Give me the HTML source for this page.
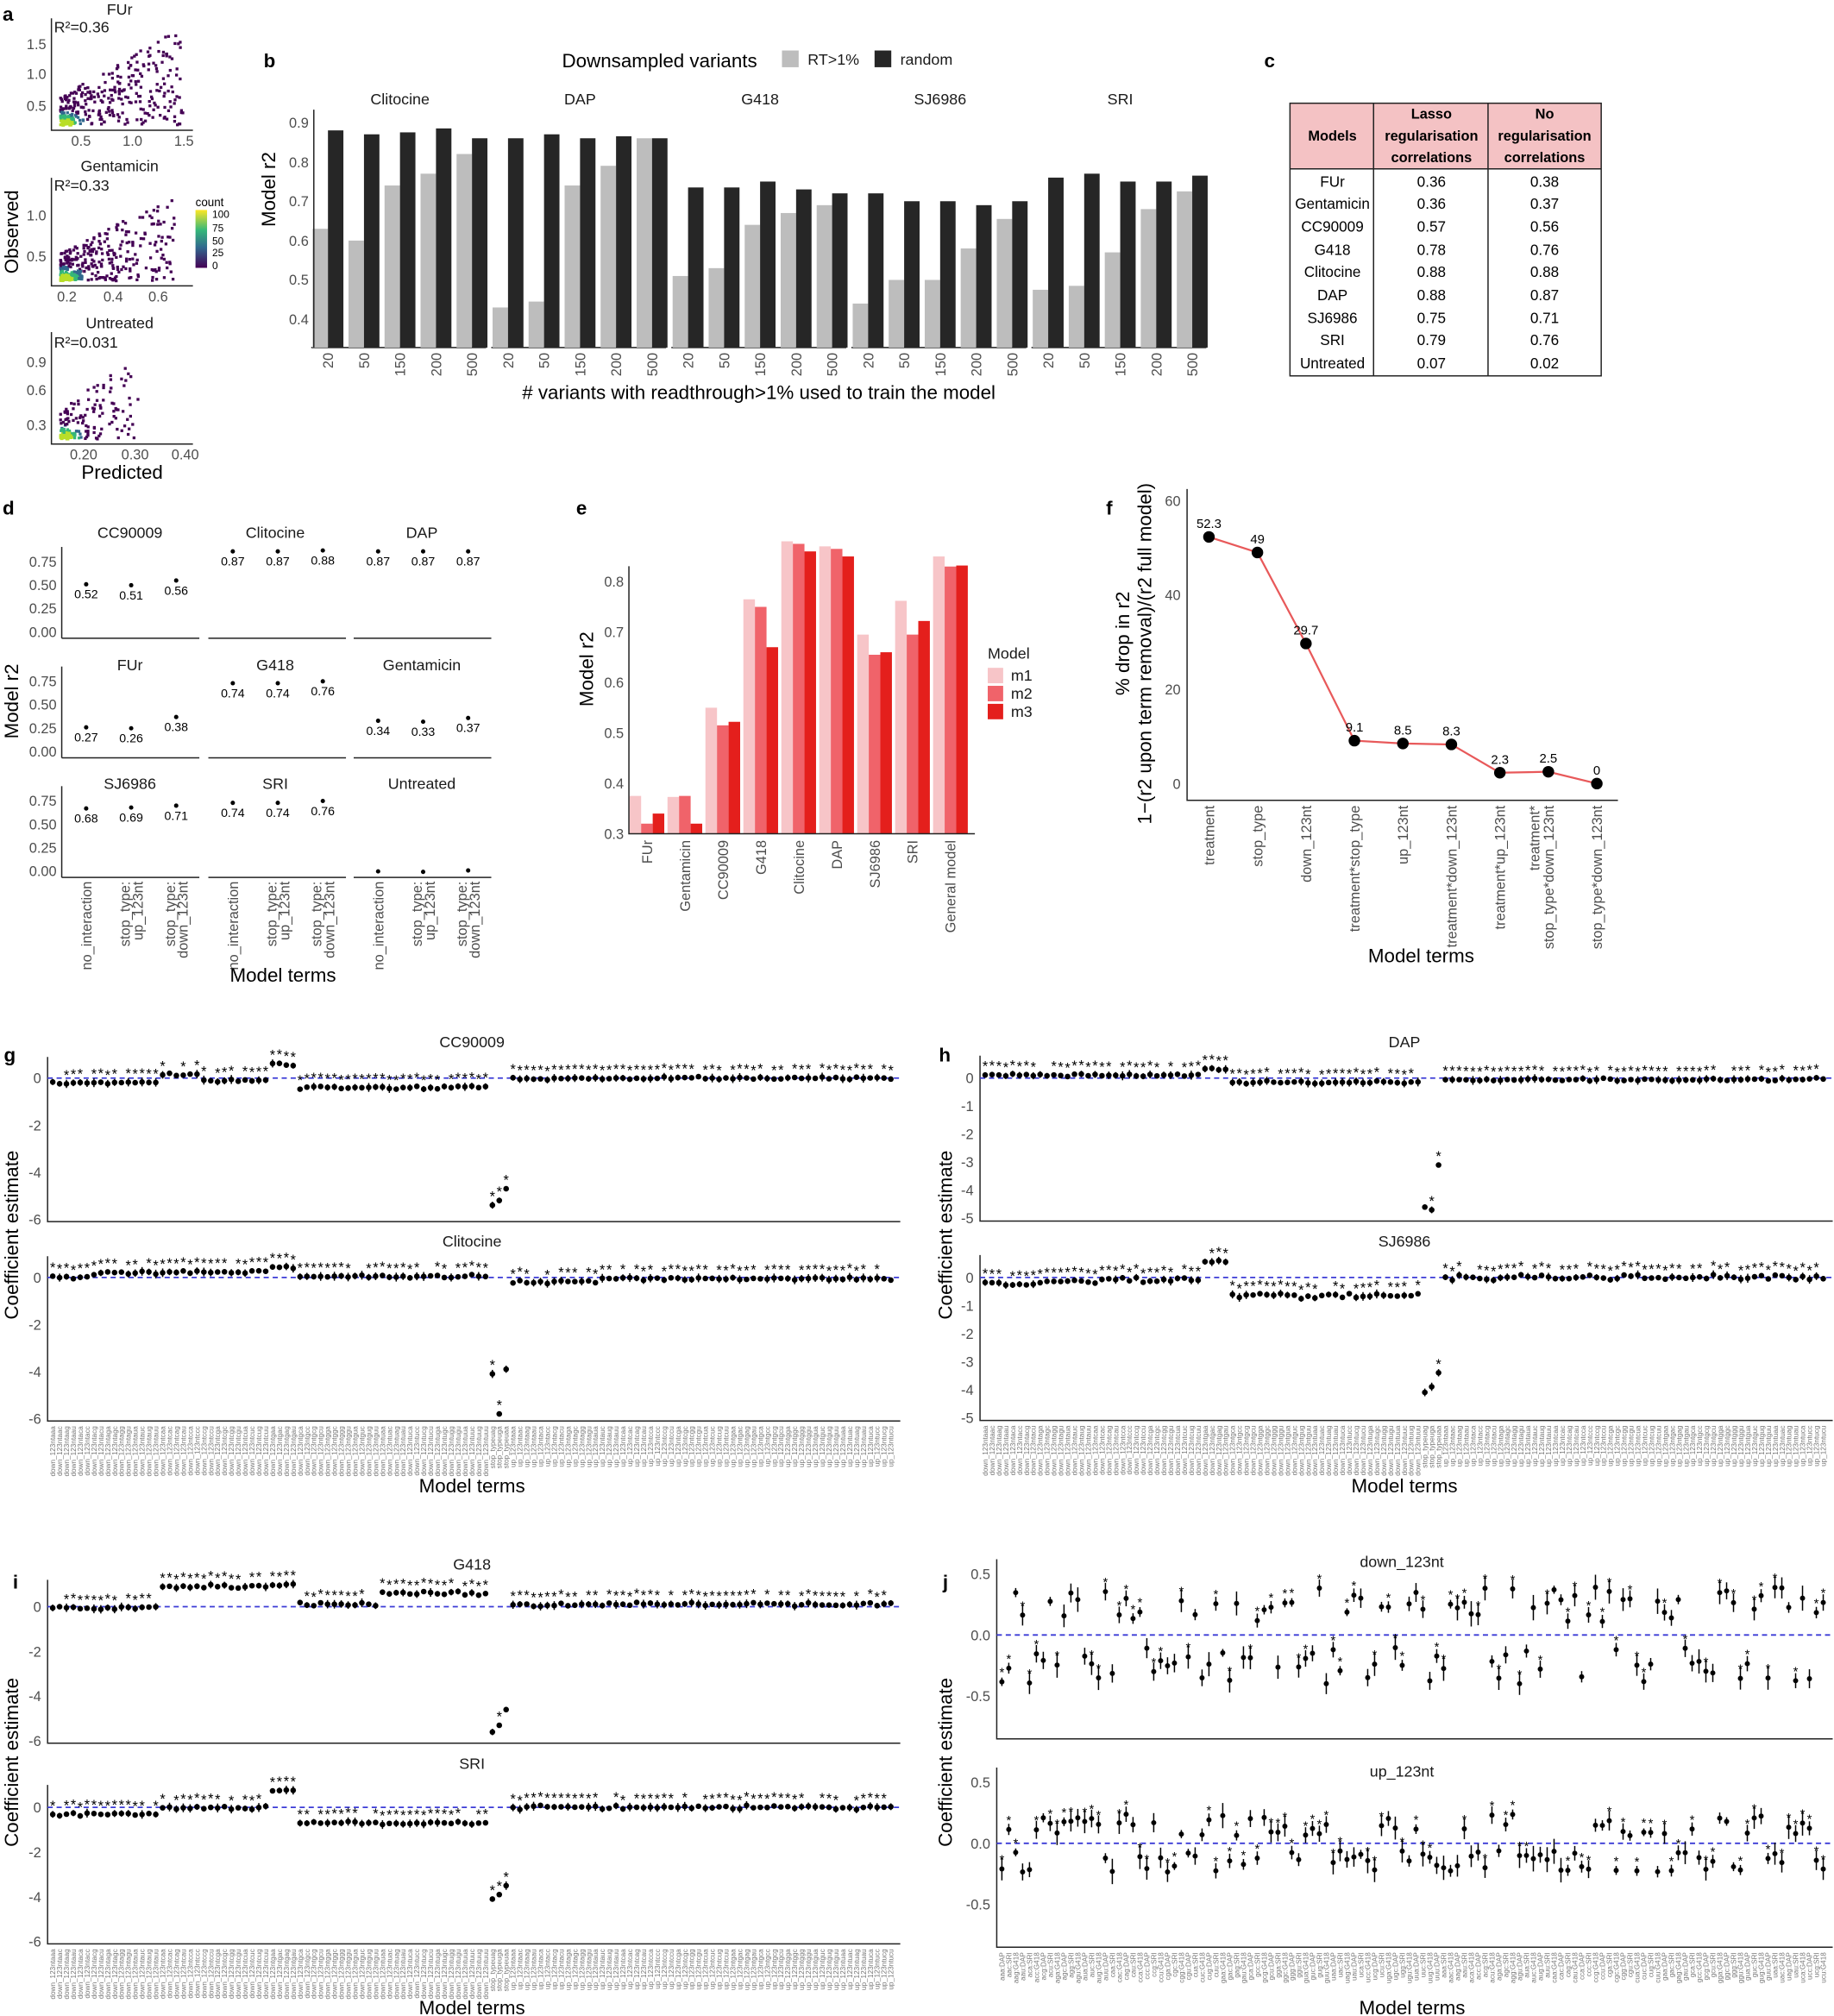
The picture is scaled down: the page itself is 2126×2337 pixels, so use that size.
<!DOCTYPE html>
<html><head><meta charset="utf-8">
<style>
html,body{margin:0;padding:0;background:#fff;}
svg{display:block;font-family:"Liberation Sans",sans-serif;}
.t{font-size:11px;fill:#4d4d4d}
.h{font-size:12px;fill:#1a1a1a}
.tt{font-size:15px;fill:#000}
.p{font-size:15px;font-weight:bold;fill:#000}
.ax{stroke:#222;stroke-width:1;fill:none}
</style></head><body>
<svg id="s" width="2126" height="2337" viewBox="0 0 1426 1567" xmlns="http://www.w3.org/2000/svg">
<rect width="1426" height="1567" fill="#fff"/>
<text class="p" x="2" y="16">a</text>
<text class="p" x="205" y="52">b</text>
<text class="p" x="983" y="52">c</text>
<text class="p" x="2" y="400">d</text>
<text class="p" x="448" y="400">e</text>
<text class="p" x="860" y="400">f</text>
<text class="p" x="3" y="825">g</text>
<text class="p" x="730" y="825">h</text>
<text class="p" x="10" y="1235">i</text>
<text class="p" x="733" y="1235">j</text>

<g id="pa">
<text class="h" x="93" y="11" text-anchor="middle">FUr</text>
<text class="h" x="93" y="133" text-anchor="middle">Gentamicin</text>
<text class="h" x="93" y="255" text-anchor="middle">Untreated</text>
<text class="h" x="42" y="25">R²=0.36</text>
<text class="h" x="42" y="148">R²=0.33</text>
<text class="h" x="42" y="270">R²=0.031</text>
<path class="ax" d="M40,14V101H150M40,138V222H150M40,258V345H150"/>
<text class="t" x="36" y="38" text-anchor="end">1.5</text>
<text class="t" x="36" y="61" text-anchor="end">1.0</text>
<text class="t" x="36" y="86" text-anchor="end">0.5</text>
<text class="t" x="63" y="113" text-anchor="middle">0.5</text>
<text class="t" x="103" y="113" text-anchor="middle">1.0</text>
<text class="t" x="143" y="113" text-anchor="middle">1.5</text>
<text class="t" x="36" y="171" text-anchor="end">1.0</text>
<text class="t" x="36" y="203" text-anchor="end">0.5</text>
<text class="t" x="52" y="234" text-anchor="middle">0.2</text>
<text class="t" x="88" y="234" text-anchor="middle">0.4</text>
<text class="t" x="123" y="234" text-anchor="middle">0.6</text>
<text class="t" x="36" y="285" text-anchor="end">0.9</text>
<text class="t" x="36" y="307" text-anchor="end">0.6</text>
<text class="t" x="36" y="334" text-anchor="end">0.3</text>
<text class="t" x="65" y="357" text-anchor="middle">0.20</text>
<text class="t" x="105" y="357" text-anchor="middle">0.30</text>
<text class="t" x="144" y="357" text-anchor="middle">0.40</text>
<text class="tt" x="95" y="372" text-anchor="middle">Predicted</text>
<text class="tt" transform="translate(14,180) rotate(-90)" text-anchor="middle">Observed</text>
<text style="font-size:9px" x="152" y="160">count</text>
<defs><linearGradient id="vg" x1="0" y1="1" x2="0" y2="0"><stop offset="0" stop-color="#440154"/><stop offset="0.35" stop-color="#31688e"/><stop offset="0.65" stop-color="#35b779"/><stop offset="1" stop-color="#fde725"/></linearGradient></defs>
<rect x="152" y="163" width="9" height="45" fill="url(#vg)"/>
<text style="font-size:8px" x="165" y="169">100</text>
<text style="font-size:8px" x="165" y="180">75</text>
<text style="font-size:8px" x="165" y="190">50</text>
<text style="font-size:8px" x="165" y="199">25</text>
<text style="font-size:8px" x="165" y="209">0</text>
</g>

<g>
<text class="tt" x="437" y="52">Downsampled variants</text>
<rect x="608" y="39" width="13" height="13" fill="#bdbdbd"/>
<text class="h" x="628" y="50">RT&gt;1%</text>
<rect x="680" y="39" width="13" height="13" fill="#262626"/>
<text class="h" x="700" y="50">random</text>
<text class="h" x="311" y="81" text-anchor="middle">Clitocine</text>
<text class="h" x="451" y="81" text-anchor="middle">DAP</text>
<text class="h" x="591" y="81" text-anchor="middle">G418</text>
<text class="h" x="731" y="81" text-anchor="middle">SJ6986</text>
<text class="h" x="871" y="81" text-anchor="middle">SRI</text>
<text class="tt" transform="translate(214,147) rotate(-90)" text-anchor="middle">Model r2</text>
<text class="t" x="240" y="99" text-anchor="end">0.9</text>
<text class="t" x="240" y="130" text-anchor="end">0.8</text>
<text class="t" x="240" y="160" text-anchor="end">0.7</text>
<text class="t" x="240" y="191" text-anchor="end">0.6</text>
<text class="t" x="240" y="221" text-anchor="end">0.5</text>
<text class="t" x="240" y="252" text-anchor="end">0.4</text>
<g id="pb"></g>
<text class="tt" x="590" y="310" text-anchor="middle"># variants with readthrough&gt;1% used to train the model</text>
</g>

<g font-size="11.5">
<rect x="1003" y="80" width="242" height="51" fill="#f4c2c4"/>
<rect x="1003" y="80" width="242" height="212" fill="none" stroke="#222"/>
<path d="M1068,80V292M1157,80V292M1003,131H1245" stroke="#222"/>
<text x="1036" y="109" text-anchor="middle" font-weight="bold" font-size="11">Models</text>
<text x="1113" y="92" text-anchor="middle" font-weight="bold" font-size="11">Lasso</text>
<text x="1113" y="109" text-anchor="middle" font-weight="bold" font-size="11">regularisation</text>
<text x="1113" y="126" text-anchor="middle" font-weight="bold" font-size="11">correlations</text>
<text x="1201" y="92" text-anchor="middle" font-weight="bold" font-size="11">No</text>
<text x="1201" y="109" text-anchor="middle" font-weight="bold" font-size="11">regularisation</text>
<text x="1201" y="126" text-anchor="middle" font-weight="bold" font-size="11">correlations</text>
<g text-anchor="middle">
<text x="1036" y="145">FUr</text><text x="1113" y="145">0.36</text><text x="1201" y="145">0.38</text>
<text x="1036" y="162">Gentamicin</text><text x="1113" y="162">0.36</text><text x="1201" y="162">0.37</text>
<text x="1036" y="180">CC90009</text><text x="1113" y="180">0.57</text><text x="1201" y="180">0.56</text>
<text x="1036" y="198">G418</text><text x="1113" y="198">0.78</text><text x="1201" y="198">0.76</text>
<text x="1036" y="215">Clitocine</text><text x="1113" y="215">0.88</text><text x="1201" y="215">0.88</text>
<text x="1036" y="233">DAP</text><text x="1113" y="233">0.88</text><text x="1201" y="233">0.87</text>
<text x="1036" y="251">SJ6986</text><text x="1113" y="251">0.75</text><text x="1201" y="251">0.71</text>
<text x="1036" y="268">SRI</text><text x="1113" y="268">0.79</text><text x="1201" y="268">0.76</text>
<text x="1036" y="286">Untreated</text><text x="1113" y="286">0.07</text><text x="1201" y="286">0.02</text>
</g></g>

<g>
<text class="h" x="101" y="418" text-anchor="middle" font-size="10">CC90009</text>
<text class="h" x="214" y="418" text-anchor="middle" font-size="10">Clitocine</text>
<text class="h" x="328" y="418" text-anchor="middle" font-size="10">DAP</text>
<text class="h" x="101" y="521" text-anchor="middle" font-size="10">FUr</text>
<text class="h" x="214" y="521" text-anchor="middle" font-size="10">G418</text>
<text class="h" x="328" y="521" text-anchor="middle" font-size="10">Gentamicin</text>
<text class="h" x="101" y="613" text-anchor="middle" font-size="10">SJ6986</text>
<text class="h" x="214" y="613" text-anchor="middle" font-size="10">SRI</text>
<text class="h" x="328" y="613" text-anchor="middle" font-size="10">Untreated</text>
<text class="tt" transform="translate(14,545) rotate(-90)" text-anchor="middle">Model r2</text>
<g id="pd"></g>
<text class="tt" x="220" y="763" text-anchor="middle">Model terms</text>
</g>

<g>
<text class="tt" transform="translate(461,520) rotate(-90)" text-anchor="middle">Model r2</text>
<g id="pe"></g>
<text class="h" x="768" y="512">Model</text>
<rect x="768" y="519" width="12" height="12" fill="#f7c5c8"/><text class="h" x="786" y="529">m1</text>
<rect x="768" y="533" width="12" height="12" fill="#f0636a"/><text class="h" x="786" y="543">m2</text>
<rect x="768" y="547" width="12" height="12" fill="#e41f1c"/><text class="h" x="786" y="557">m3</text>
</g>

<g>
<text class="tt" transform="translate(878,500) rotate(-90)" text-anchor="middle">% drop in r2</text>
<text class="tt" transform="translate(895,508) rotate(-90)" text-anchor="middle">1−(r2 upon term removal)/(r2 full model)</text>
<g id="pf"></g>
<text class="tt" x="1105" y="748" text-anchor="middle">Model terms</text>
</g>

<g id="pg"></g>
<text class="tt" transform="translate(14,960) rotate(-90)" text-anchor="middle">Coefficient estimate</text>
<text class="tt" transform="translate(740,960) rotate(-90)" text-anchor="middle">Coefficient estimate</text>
<text class="tt" transform="translate(14,1370) rotate(-90)" text-anchor="middle">Coefficient estimate</text>
<text class="tt" transform="translate(740,1370) rotate(-90)" text-anchor="middle">Coefficient estimate</text>
<text class="h" x="367" y="814" text-anchor="middle">CC90009</text>
<text class="h" x="367" y="969" text-anchor="middle">Clitocine</text>
<text class="h" x="1092" y="814" text-anchor="middle">DAP</text>
<text class="h" x="1092" y="969" text-anchor="middle">SJ6986</text>
<text class="h" x="367" y="1220" text-anchor="middle">G418</text>
<text class="h" x="367" y="1375" text-anchor="middle">SRI</text>
<text class="h" x="1090" y="1218" text-anchor="middle">down_123nt</text>
<text class="h" x="1090" y="1381" text-anchor="middle">up_123nt</text>
<text class="tt" x="367" y="1160" text-anchor="middle">Model terms</text>
<text class="tt" x="1092" y="1160" text-anchor="middle">Model terms</text>
<text class="tt" x="367" y="1566" text-anchor="middle">Model terms</text>
<text class="tt" x="1098" y="1566" text-anchor="middle">Model terms</text>
</svg>
<script>
var NS="http://www.w3.org/2000/svg";
function el(p,n,a,t){var e=document.createElementNS(NS,n);for(var k in a)e.setAttribute(k,a[k]);if(t!=null)e.textContent=t;p.appendChild(e);return e;}
var seed=7;function rnd(){seed=(seed*16807)%2147483647;return (seed-1)/2147483646;}
function gauss(){return (rnd()+rnd()+rnd()-1.5)/1.5;}
var cod=['aaa','aac','aag','aau','aca','acc','acg','acu','aga','agc','agg','agu','aua','auc','aug','auu','caa','cac','cag','cau','cca','ccc','ccg','ccu','cga','cgc','cgg','cgu','cua','cuc','cug','cuu','gaa','gac','gag','gau','gca','gcc','gcg','gcu','gga','ggc','ggg','ggu','gua','guc','gug','guu','uaa','uac','uag','uau','uca','ucc','ucg','ucu','uga','ugc','ugg','ugu','uua','uuc','uug','uuu'];
(function(){var g=document.getElementById('pa');
function sc(x0,x1,y0,y1,n,sx,sy,tail,xf){for(var i=0;i<n;i++){var x,y;if(rnd()<tail){x=x0+4+Math.pow(rnd(),1.6)*(x1-x0)*xf;y=y1-3-Math.pow(rnd(),1.3)*(y1-y0)*(0.25+0.75*(x-x0)/(x1-x0));}else{x=x0+6+Math.abs(gauss())*sx;y=y1-4-Math.abs(gauss())*sy;}
if(x>x1)x=x1;if(y<y0)y=y0;
var d=Math.hypot((x-x0-8)/1.5,y1-y-4);var c=d<4?'#b8de29':d<7?'#35b779':d<10?'#31688e':'#440154';el(g,'rect',{x:x,y:y,width:2.2,height:2.2,fill:c});}}
sc(42,145,20,99,700,10,6,0.45,0.95);sc(42,148,145,220,800,18,5,0.4,0.85);sc(42,110,270,343,450,10,6,0.3,0.9);})();
(function(){var g=document.getElementById('pb');
var d=[[[.63,.88],[.60,.87],[.74,.875],[.77,.885],[.82,.86]],[[.43,.86],[.445,.87],[.74,.86],[.79,.865],[.86,.86]],[[.51,.735],[.53,.735],[.64,.75],[.67,.73],[.69,.72]],[[.44,.72],[.50,.70],[.50,.70],[.58,.69],[.655,.70]],[[.475,.76],[.485,.77],[.57,.75],[.68,.75],[.725,.765]]];
var labs=['20','50','150','200','500'];
function Y(v){return 248-(v-0.4)*306;}
for(var f=0;f<5;f++){var x0=245+f*140;
el(g,'path',{d:'M'+(x0-3)+',270H'+(x0+133),stroke:'#222',fill:'none'});
for(var i=0;i<5;i++){var cx=x0+10+i*28;
el(g,'rect',{x:cx-12,y:Y(d[f][i][0]),width:12,height:270-Y(d[f][i][0]),fill:'#bdbdbd'});
el(g,'rect',{x:cx,y:Y(d[f][i][1]),width:12,height:270-Y(d[f][i][1]),fill:'#262626'});
el(g,'text',{'class':'t',transform:'translate('+(cx+4)+',274) rotate(-90)','text-anchor':'end','font-size':'12'},labs[i]);}}
el(g,'path',{d:'M244,85V270',stroke:'#222'});})();
(function(){var g=document.getElementById('pd');
var vals=[[.52,.51,.56],[.87,.87,.88],[.87,.87,.87],[.27,.26,.38],[.74,.74,.76],[.34,.33,.37],[.68,.69,.71],[.74,.74,.76],[.01,.005,.02]];
var rows=[[428,492],[520,585],[612,678]];var cols=[48,162,275];
for(var r=0;r<3;r++){var yb=rows[r][1];var Y=function(v){return yb-v*73;};
['0.75','0.50','0.25','0.00'].forEach(function(l,k){el(g,'text',{'class':'t','font-size':'9.5',x:44,y:Y([.75,.5,.25,0][k])+3,'text-anchor':'end'},l);});
el(g,'path',{d:'M48,'+(yb-67)+'V'+(yb+4),stroke:'#222'});
for(var c=0;c<3;c++){var x0=cols[c];el(g,'path',{d:'M'+x0+','+(yb+4)+'H'+(x0+107),stroke:'#222'});
for(var i=0;i<3;i++){var x=x0+19+i*35,v=vals[r*3+c][i];el(g,'circle',{cx:x,cy:Y(v),r:1.7,fill:'#000'});
if(r<2||c<2)el(g,'text',{x:x,y:Y(v)+11,'text-anchor':'middle','font-size':'9.5'},v.toFixed(2));
if(r==2){var lb=[['no_interaction'],['stop_type:','up_123nt'],['stop_type:','down_123nt']][i];
lb.forEach(function(s,k){var xx=lb.length>1?(x-1+k*10):(x+4);el(g,'text',{'class':'t','font-size':'9',transform:'translate('+xx+','+(yb+7)+') rotate(-90)','text-anchor':'end'},s);});}}}}})();
(function(){var g=document.getElementById('pe');
var n=['FUr','Gentamicin','CC90009','G418','Clitocine','DAP','SJ6986','SRI','General model'];
var v=[[.375,.32,.34],[.373,.375,.32],[.55,.515,.522],[.765,.75,.67],[.88,.875,.86],[.87,.865,.85],[.695,.655,.66],[.762,.695,.722],[.85,.83,.832]];
var col=['#f7c5c8','#f0636a','#e41f1c'];function Y(x){return 648-(x-0.3)*392;}
[.3,.4,.5,.6,.7,.8].forEach(function(t){el(g,'text',{'class':'t','font-size':'12',x:485,y:Y(t)+4,'text-anchor':'end'},t.toFixed(1));});
for(var i=0;i<9;i++){var cx=503+i*29.5;for(var j=0;j<3;j++){var y=Y(v[i][j]);el(g,'rect',{x:cx-13.5+j*9,y:y,width:9,height:648-y,fill:col[j]});}
el(g,'text',{'class':'t','font-size':'12',transform:'translate('+(cx+4)+',653) rotate(-90)','text-anchor':'end'},n[i]);}
el(g,'path',{d:'M489,440V648H758',stroke:'#222',fill:'none'});})();
(function(){var g=document.getElementById('pf');
var v=[52.3,49,29.7,9.1,8.5,8.3,2.3,2.5,0];var lb=['52.3','49','29.7','9.1','8.5','8.3','2.3','2.5','0'];
var n=[['treatment'],['stop_type'],['down_123nt'],['treatment*stop_type'],['up_123nt'],['treatment*down_123nt'],['treatment*up_123nt'],['treatment*','stop_type*down_123nt'],['stop_type*down_123nt']];
function Y(x){return 609-x*3.667;}
[0,20,40,60].forEach(function(t){el(g,'text',{'class':'t','font-size':'12',x:918,y:Y(t)+4,'text-anchor':'end'},t);});
el(g,'path',{d:'M923,380V622H1258',stroke:'#222',fill:'none'});
var p='';for(var i=0;i<9;i++){var x=940+i*37.7;p+=(i?'L':'M')+x+','+Y(v[i]);}
el(g,'path',{d:p,stroke:'#e8595a','stroke-width':1.5,fill:'none'});
for(var i=0;i<9;i++){var x=940+i*37.7;el(g,'circle',{cx:x,cy:Y(v[i]),r:4.5,fill:'#000'});
el(g,'text',{x:x,y:Y(v[i])-7,'text-anchor':'middle','font-size':'10'},lb[i]);
n[i].forEach(function(s,k){el(g,'text',{'class':'t','font-size':'10',transform:'translate('+(x+4-(n[i].length-1-k)*11)+',626) rotate(-90)','text-anchor':'end'},s);});}})();
(function(){var g=document.getElementById('pg');
function panel(o){var N=123,x0=o.x0,x1=o.x1,y0=o.y0,ppu=o.ppu;
var yb=y0-ppu*o.ylo;
el(g,'path',{d:'M'+x0+','+(y0-ppu*o.yhi)+'V'+yb+'H'+x1,stroke:'#222',fill:'none'});
o.ticks.forEach(function(t){el(g,'text',{'class':'t','font-size':'11',x:x0-5,y:y0-t*ppu+4,'text-anchor':'end'},t);});
el(g,'path',{d:'M'+x0+','+y0+'H'+x1,stroke:'#3b3bd6','stroke-dasharray':'4,3','stroke-width':1.2});
var st=(x1-x0-6)/N;
for(var i=0;i<N;i++){var x=x0+4+i*st,v;
if(i>=64&&i<67){v=o.outl[i-64];}else{v=o.prof(i)+gauss()*o.noise;}
var y=y0-v*ppu;var e=1.5+rnd()*2;el(g,'path',{d:'M'+x+','+(y-e)+'V'+(y+e),stroke:'#000','stroke-width':1});
el(g,'circle',{cx:x,cy:y,r:2.2,fill:'#000'});if(rnd()<0.85)el(g,'text',{x:x,y:y-3,'text-anchor':'middle','font-size':'11'},'*');
if(o.labels){var lbl=i<64?'down_123nt'+cod[i]:i<67?'stop_type'+['uag','uga','uaa'][i-64]:'up_123nt'+cod[(i-67)%64];
el(g,'text',{transform:'translate('+(x+2)+','+(yb+4)+') rotate(-90)','text-anchor':'end','font-size':'5.5',fill:'#777'},lbl);}}}
function blk(a){return function(i){for(var k=0;k<a.length;k++){if(i<a[k][0])return a[k][1];}return 0;};}
panel({x0:37,x1:700,y0:838,ppu:18.3,ticks:[0,-2,-4,-6],ylo:-6.1,yhi:0.9,outl:[-5.4,-5.2,-4.7],noise:0.1,prof:blk([[16,-0.2],[22,0.15],[32,-0.1],[36,0.6],[64,-0.4],[123,0]])});
panel({x0:37,x1:700,y0:993,ppu:18.3,ticks:[0,-2,-4,-6],ylo:-6.1,yhi:0.9,outl:[-4.1,-5.8,-3.9],noise:0.1,prof:blk([[6,0],[16,0.2],[32,0.25],[36,0.45],[64,0.05],[80,-0.2],[123,-0.05]]),labels:1});
panel({x0:762,x1:1425,y0:838,ppu:21.8,ticks:[0,-1,-2,-3,-4,-5],ylo:-5.1,yhi:0.8,outl:[-4.6,-4.7,-3.1],noise:0.08,prof:blk([[32,0.1],[36,0.3],[64,-0.15],[123,-0.05]])});
panel({x0:762,x1:1425,y0:993,ppu:21.8,ticks:[0,-1,-2,-3,-4,-5],ylo:-5.1,yhi:0.8,outl:[-4.1,-3.9,-3.4],noise:0.15,prof:blk([[10,-0.2],[32,-0.1],[36,0.6],[64,-0.65],[123,0]]),labels:1});
panel({x0:37,x1:700,y0:1249,ppu:17.4,ticks:[0,-2,-4,-6],ylo:-6.1,yhi:1.2,outl:[-5.6,-5.3,-4.6],noise:0.12,prof:blk([[16,-0.05],[32,0.9],[36,1.0],[48,0.1],[64,0.6],[123,0.1]])});
panel({x0:37,x1:700,y0:1405,ppu:17.4,ticks:[0,-2,-4,-6],ylo:-6.1,yhi:1.0,outl:[-4.1,-3.9,-3.5],noise:0.12,prof:blk([[16,-0.3],[32,0],[36,0.8],[64,-0.7],[123,0]]),labels:1});
function jp(y0,labels){var N=120,x0=775,x1=1425,ppu=95;
el(g,'path',{d:'M'+x0+','+(y0-0.62*ppu)+'V'+(y0+0.85*ppu)+'H'+x1,stroke:'#222',fill:'none'});
[0.5,0,-0.5].forEach(function(t){el(g,'text',{'class':'t','font-size':'11',x:x0-5,y:y0-t*ppu+4,'text-anchor':'end'},t.toFixed(1));});
el(g,'path',{d:'M'+x0+','+y0+'H'+x1,stroke:'#3b3bd6','stroke-dasharray':'4,3','stroke-width':1.2});
var st=(x1-x0-6)/N;for(var i=0;i<N;i++){var x=x0+4+i*st;var v=(rnd()<0.5?1:-1)*(0.1+rnd()*0.3);if(labels)v*=0.6;var y=y0-v*ppu,e=3+rnd()*7;
el(g,'path',{d:'M'+x+','+(y-e)+'V'+(y+e),stroke:'#000'});el(g,'circle',{cx:x,cy:y,r:2,fill:'#000'});if(rnd()<0.6)el(g,'text',{x:x,y:y-4,'text-anchor':'middle','font-size':'10'},'*');
if(labels)el(g,'text',{transform:'translate('+(x+2)+','+(y0+0.85*ppu+4)+') rotate(-90)','text-anchor':'end','font-size':'5.5',fill:'#777'},cod[i%64]+':'+['DAP','SRI','G418'][i%3]);}}
jp(1271,0);jp(1433,1);
})();
</script>
</body></html>
